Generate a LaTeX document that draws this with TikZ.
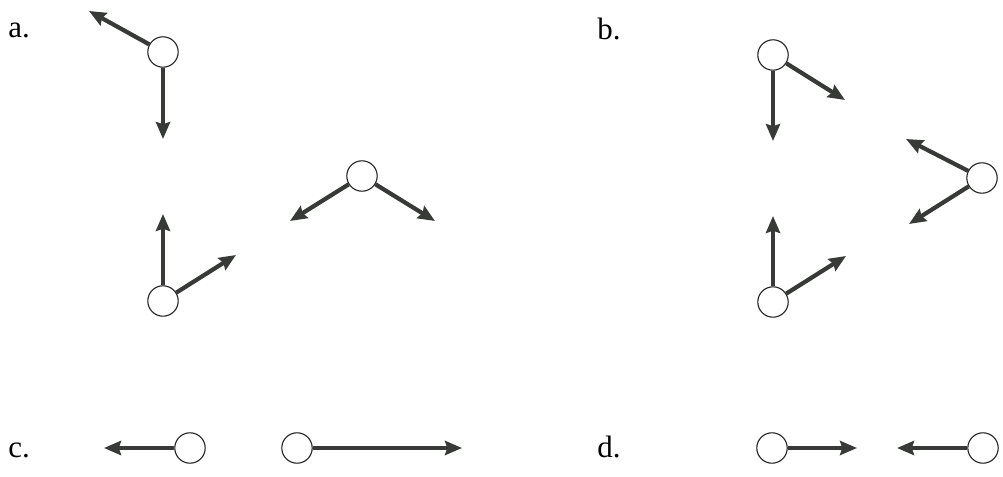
\documentclass[tikz,border=0pt]{standalone}
\usepackage{fontspec}
\setmainfont{Liberation Serif}
\usepackage{tikz}
\usetikzlibrary{arrows.meta}
\definecolor{forcegrey}{RGB}{55,58,55}

\begin{document}
\begin{tikzpicture}[
    x=0.025cm, y=-0.025cm,
    ball/.style={circle, draw=black!85, fill=white, minimum size=0.76cm,
        inner sep=0pt, line width=0.8pt},
    force/.style={->, line width=3pt, draw=forcegrey},
    panel/.style={anchor=base west, inner sep=0pt,
        font=\fontsize{22}{26}\selectfont},
    >={Stealth[length=12pt, width=10pt, inset=1.5pt]}
]
\useasboundingbox (0,0) rectangle (1003,477);

% panel labels
\node[panel] (la) at (8,38) {a.};
\node[panel] (lb) at (597,40) {b.};
\node[panel] (lc) at (8,457) {c.};
\node[panel] (ld) at (597,457) {d.};

% a.
\node[ball] (a1) at (163,52) {};
\node[ball] (a2) at (163,301) {};
\node[ball] (a3) at (362,176) {};
\coordinate (a1l) at (89,11);
\coordinate (a1d) at (163,139);
\coordinate (a2u) at (163,214);
\coordinate (a2r) at (236,255);
\coordinate (a3l) at (290,221);
\coordinate (a3r) at (435,221);
\draw[force] (a1) -- (a1l);
\draw[force] (a1) -- (a1d);
\draw[force] (a2) -- (a2u);
\draw[force] (a2) -- (a2r);
\draw[force] (a3) -- (a3l);
\draw[force] (a3) -- (a3r);

% b.
\node[ball] (b1) at (773,55) {};
\node[ball] (b2) at (982,178) {};
\node[ball] (b3) at (773,302) {};
\coordinate (b1d) at (773,141);
\coordinate (b1r) at (845,100);
\coordinate (b2u) at (906,139);
\coordinate (b2d) at (909,224);
\coordinate (b3u) at (773,216);
\coordinate (b3r) at (846,256);
\draw[force] (b1) -- (b1d);
\draw[force] (b1) -- (b1r);
\draw[force] (b2) -- (b2u);
\draw[force] (b2) -- (b2d);
\draw[force] (b3) -- (b3u);
\draw[force] (b3) -- (b3r);

% c.
\node[ball] (c1) at (190,448) {};
\node[ball] (c2) at (297,448) {};
\coordinate (c1l) at (104,448);
\coordinate (c2r) at (462,448);
\draw[force] (c1) -- (c1l);
\draw[force] (c2) -- (c2r);

% d.
\node[ball] (d1) at (772,448) {};
\node[ball] (d2) at (983,448) {};
\coordinate (d1r) at (857,448);
\coordinate (d2l) at (897,448);
\draw[force] (d1) -- (d1r);
\draw[force] (d2) -- (d2l);
\end{tikzpicture}
\end{document}
